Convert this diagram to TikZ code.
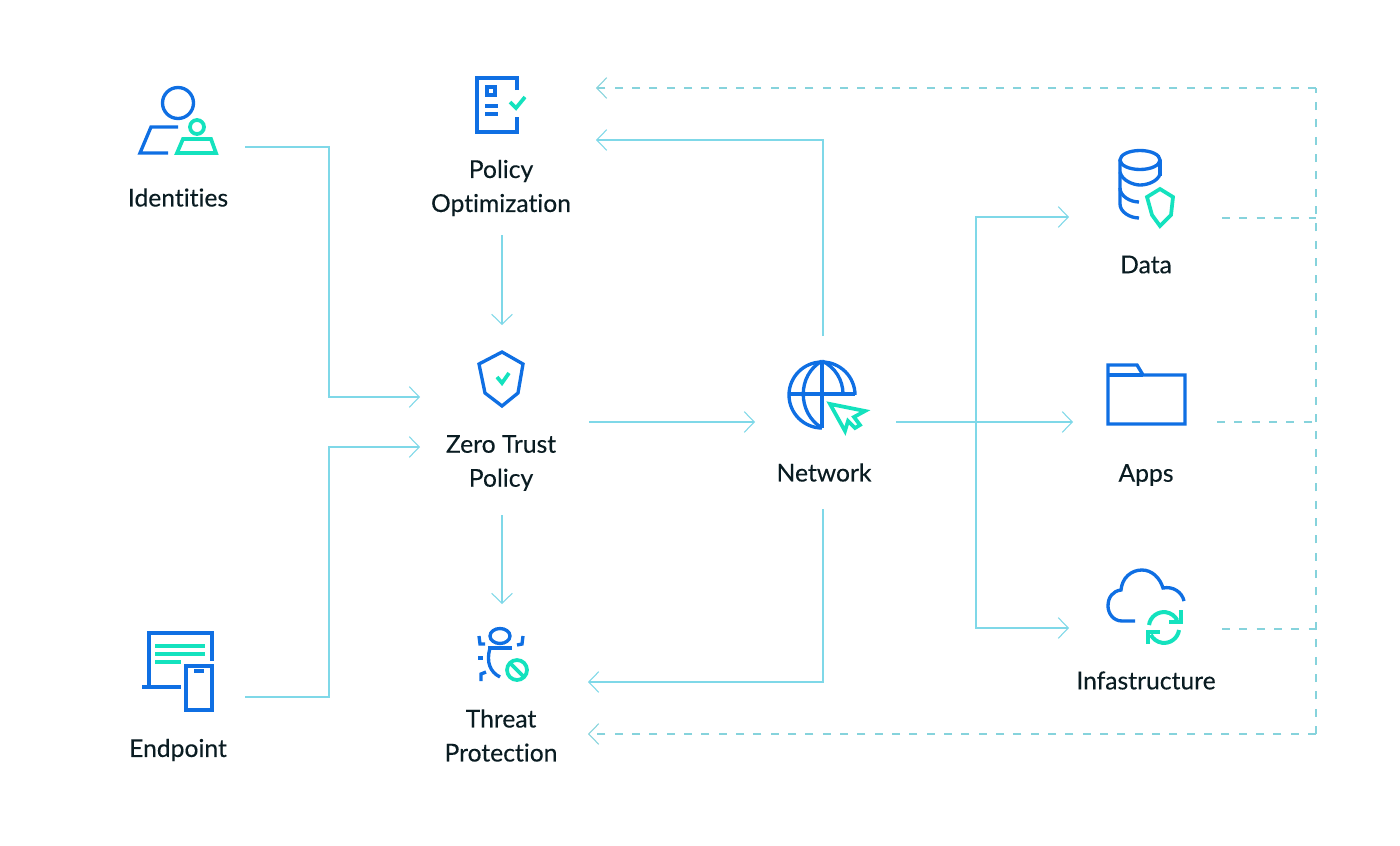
\documentclass[tikz,border=0pt]{standalone}
\usepackage{fontspec}
\setmainfont[Ligatures=NoCommon,FakeBold=0.25]{Lato}
\usetikzlibrary{arrows.meta}
\definecolor{iconblue}{HTML}{0F6FE3}
\definecolor{iconteal}{HTML}{14E2BE}
\definecolor{flowline}{HTML}{7FD8E8}
\definecolor{backline}{HTML}{86D3DC}
\definecolor{labeltext}{HTML}{0A1C22}
\tikzset{
  label/.style={align=center,text=labeltext,font=\fontsize{18.5}{25.5}\selectfont,inner sep=0pt},
  flow/.style={flowline,line width=1.1pt,-{Straight Barb[length=7.5pt,width=15.5pt,line width=0.8pt]}},
  back/.style={backline,line width=1pt,dash pattern=on 6pt off 7pt},
  backarrow/.style={back,-{Straight Barb[length=7.5pt,width=15.5pt,line width=0.8pt]}},
  blueicon/.style={iconblue,line width=2.5pt,line join=miter},
  tealicon/.style={iconteal,line width=2.8pt,line join=miter}
}
\begin{document}
\begin{tikzpicture}[x=0.75pt,y=-0.75pt]
\useasboundingbox (0,0) rectangle (1400,846);

% labels
\node[label] (identities) at (178,197.5) {Identities};
\node[label] (endpoint) at (178,750) {Endpoint};
\node[label] (optimization) at (501,188) {Policy\\Optimization};
\node[label] (zerotrust) at (501,463) {Zero Trust\\Policy};
\node[label] (threat) at (501,735.5) {Threat\\Protection};
\node[label] (network) at (824,472.5) {Network};
\node[label] (data) at (1146,264.5) {Data};
\node[label] (apps) at (1146,475) {Apps};
\node[label] (infra) at (1146,680.5) {Infastructure};

% connector ends
\coordinate (identOut) at (245,147);
\coordinate (identIn) at (420,397);
\coordinate (endOut) at (245,697);
\coordinate (endIn) at (420,447);
\coordinate (optOut) at (502,235);
\coordinate (ztTop) at (502,325);
\coordinate (ztOut) at (502,515);
\coordinate (threatTop) at (502,604);
\coordinate (ztRight) at (589,422);
\coordinate (netLeft) at (755,422);
\coordinate (netTop) at (823,336);
\coordinate (optRight) at (596,140);
\coordinate (netBottom) at (823,509);
\coordinate (threatRight) at (588,682);
\coordinate (netRight) at (896,422);
\coordinate (appsLeft) at (1073,422);
\coordinate (branch) at (976,422);
\coordinate (dataLeft) at (1069,217);
\coordinate (infraLeft) at (1069,628);
\coordinate (dataOut) at (1222,218);
\coordinate (appsOut) at (1217,422);
\coordinate (infraOut) at (1222,629);
\coordinate (busTop) at (1316,88);
\coordinate (busBottom) at (1316,734);
\coordinate (optBack) at (596,88);
\coordinate (threatBack) at (588,734);

% flow
\draw[flow] (identOut) -- (329,147) -- (329,397) -- (identIn);
\draw[flow] (endOut) -- (329,697) -- (329,447) -- (endIn);
\draw[flow] (optOut) -- (ztTop);
\draw[flow] (ztOut) -- (threatTop);
\draw[flow] (ztRight) -- (netLeft);
\draw[flow] (netTop) -- (optRight-|netTop) -- (optRight);
\draw[flow] (netBottom) -- (threatRight-|netBottom) -- (threatRight);
\draw[flow] (netRight) -- (appsLeft);
\draw[flow] (branch) -- (dataLeft-|branch) -- (dataLeft);
\draw[flow] (branch) -- (infraLeft-|branch) -- (infraLeft);

% feedback
\draw[back] (dataOut) -- (dataOut-|busTop);
\draw[back] (appsOut) -- (appsOut-|busTop);
\draw[back] (infraOut) -- (infraOut-|busTop);
\draw[back] (busBottom) -- (busTop);
\draw[backarrow] (busTop) -- (optBack);
\draw[backarrow] (busBottom) -- (threatBack);

% identities icon
\draw[blueicon] (178,103) circle [radius=15.5*0.75pt];
\draw[blueicon] (178,127) -- (151,127) -- (140,153) -- (168,153);
\draw[tealicon] (197,127) circle [radius=7*0.75pt];
\draw[tealicon] (183,139) -- (211,139) -- (216,153) -- (177,153) -- cycle;

% policy icon
\draw[blueicon] (517,90) -- (517,78) -- (477,78) -- (477,132) -- (517,132) -- (517,117);
\draw[blueicon,line width=3.2pt] (487,87) rectangle (495,95);
\draw[blueicon] (485,106) -- (498,106);
\draw[blueicon] (485,114) -- (498,114);
\draw[tealicon] (510,102) -- (516,108) -- (525,97);

% shield icon
\draw[blueicon] (502,352) -- (523,364) -- (518,393) -- (502,406) -- (485,393) -- (479,364) -- cycle;
\draw[tealicon] (497,377) -- (502,383) -- (509,373);

% endpoint icon
\draw[blueicon] (149,686) -- (149,633) -- (212,633) -- (212,661);
\draw[blueicon] (142,687) -- (181,687);
\draw[tealicon] (155,646) -- (205,646);
\draw[tealicon] (155,654) -- (205,654);
\draw[tealicon] (155,662) -- (181,662);
\draw[blueicon] (186,666) rectangle (212,710);
\draw[blueicon,line width=3.5pt] (194,671) -- (204,671);

% threat icon
\draw[blueicon] (500,636) ellipse [x radius=10*0.75pt,y radius=7.5*0.75pt];
\draw[blueicon] (488,648) -- (512,648);
\draw[blueicon] (490,648) .. controls (486,662) and (490,672) .. (500,677);
\draw[blueicon] (479,636) -- (480,644) -- (485,644);
\draw[blueicon] (523,636) -- (522,644) -- (517,645);
\draw[blueicon] (478,658) -- (483,658);
\draw[blueicon] (486,672) -- (481,674) -- (481,681);
\draw[tealicon] (517,670) circle [radius=10*0.75pt];
\draw[tealicon] (510,663) -- (524,677);

% network icon
\draw[blueicon] (822,428) arc [start angle=270,delta angle=-270,radius=33*0.75pt];
\draw[blueicon] (822,361) -- (822,428);
\draw[blueicon] (789,394) -- (855,394);
\draw[blueicon] (822,361) .. controls (797,375) and (797,413) .. (822,428);
\draw[blueicon] (822,361) .. controls (835,367) and (843,380) .. (843,394);
\draw[tealicon] (830,404) -- (865,411) -- (854,417) -- (860,425) -- (855,428) -- (848,421) -- (845,431) -- cycle;

% data icon
\draw[blueicon] (1140,160) ellipse [x radius=20*0.75pt,y radius=9.5*0.75pt];
\draw[blueicon] (1120,160) -- (1120,204) .. controls (1120,212) and (1130,218) .. (1139,218);
\draw[blueicon] (1160,160) -- (1160,176);
\draw[blueicon] (1120,172) .. controls (1122,181) and (1134,185) .. (1140,185) .. controls (1148,185) and (1158,181) .. (1160,174);
\draw[blueicon] (1120,188) .. controls (1120,196) and (1130,202) .. (1139,202);
\draw[tealicon] (1160,189) -- (1173,197) -- (1171,215) -- (1160,226) -- (1152,215) -- (1147,197) -- cycle;

% apps icon
\draw[blueicon] (1108,365) -- (1137,365) -- (1143,375) -- (1185,375) -- (1185,424) -- (1108,424) -- cycle;
\draw[blueicon] (1108,375) -- (1143,375);

% cloud icon
\draw[blueicon] (1135,621) -- (1122,621) .. controls (1113,621) and (1108,613) .. (1108,606) .. controls (1108,597) and (1113,591) .. (1121,590) .. controls (1122,578) and (1131,570) .. (1142,570) .. controls (1152,570) and (1160,578) .. (1163,588) .. controls (1173,586) and (1182,592) .. (1184,601);
\draw[tealicon,line width=3pt] (1149,625) arc [start angle=172,delta angle=-145,radius=15*0.75pt];
\draw[tealicon,line width=3pt] (1181,610) -- (1181,622) -- (1169,622);
\draw[tealicon,line width=3pt] (1179,630) arc [start angle=-8,delta angle=-145,radius=15*0.75pt];
\draw[tealicon,line width=3pt] (1148,644) -- (1148,632) -- (1160,632);
\end{tikzpicture}
\end{document}
